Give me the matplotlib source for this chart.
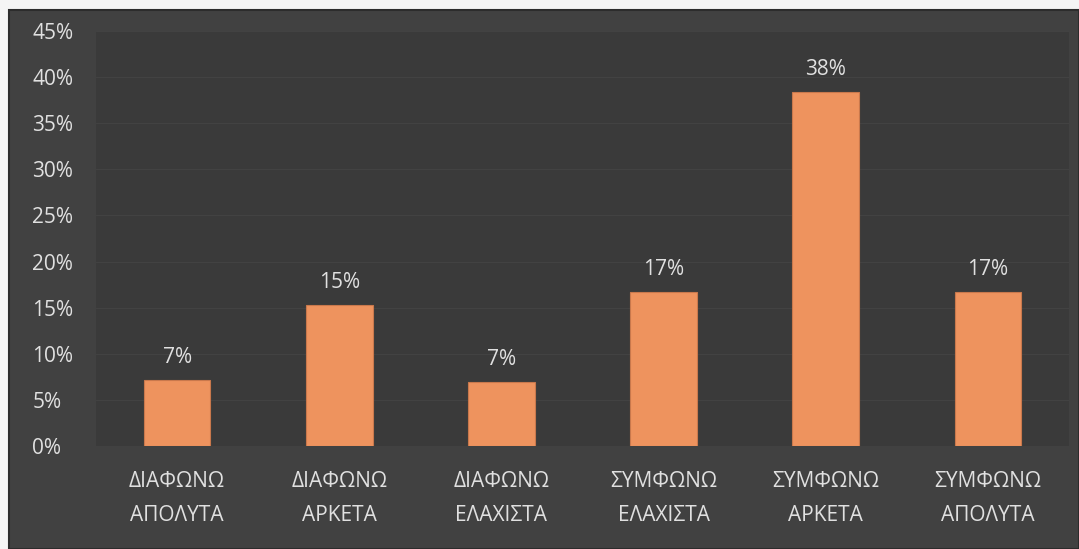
import matplotlib
matplotlib.use("Agg")
import matplotlib.pyplot as plt
from matplotlib.patches import Rectangle
from matplotlib.ticker import MultipleLocator, FuncFormatter

categories = ["ΔΙΑΦΩΝΩ\nΑΠΟΛΥΤΑ", "ΔΙΑΦΩΝΩ\nΑΡΚΕΤΑ", "ΔΙΑΦΩΝΩ\nΕΛΑΧΙΣΤΑ",
              "ΣΥΜΦΩΝΩ\nΕΛΑΧΙΣΤΑ", "ΣΥΜΦΩΝΩ\nΑΡΚΕΤΑ", "ΣΥΜΦΩΝΩ\nΑΠΟΛΥΤΑ"]
values = [7.2, 15.3, 6.9, 16.7, 38.4, 16.7]

plt.rcParams['font.family'] = ['Open Sans', 'DejaVu Sans']
text_color = "#e0e0e0"
fs = 15

fig = plt.figure(figsize=(10.79, 5.49), dpi=100, facecolor="#f4f4f4")
# dark chart frame behind the axes
fig.patches.append(Rectangle((0.008, 0.0), 0.992, 0.982, transform=fig.transFigure,
                             facecolor="#414141", edgecolor="#2c2c2c", lw=1.5, zorder=-5))

ax = fig.add_axes([0.089, 0.1876, 0.9017, 0.756], zorder=2)
ax.set_facecolor("#3a3a3a")
x = list(range(len(categories)))
ax.bar(x, values, width=0.41, color="#ee935e", edgecolor="#c9784c", linewidth=0.8, zorder=3)
for xi, v in zip(x, values):
    ax.text(xi, v + 1.3, f"{v:.0f}%", ha="center", va="bottom", color=text_color, fontsize=fs)

ax.set_xlim(-0.5, len(categories) - 0.5)
ax.set_ylim(0, 45)
ax.yaxis.set_major_locator(MultipleLocator(5))
ax.yaxis.set_major_formatter(FuncFormatter(lambda v, p: f"{v:.0f}%"))
ax.set_xticks(x)
ax.set_xticklabels(categories, linespacing=1.8)
ax.tick_params(axis="both", colors=text_color, labelsize=fs, length=0)
ax.tick_params(axis="x", pad=18)
ax.tick_params(axis="y", pad=46)
for lab in ax.get_yticklabels():
    lab.set_horizontalalignment("left")
ax.grid(axis="y", color="#444444", lw=0.6, zorder=0)
for s in ax.spines.values():
    s.set_visible(False)

fig.savefig("out.png", dpi=100, facecolor=fig.get_facecolor())
